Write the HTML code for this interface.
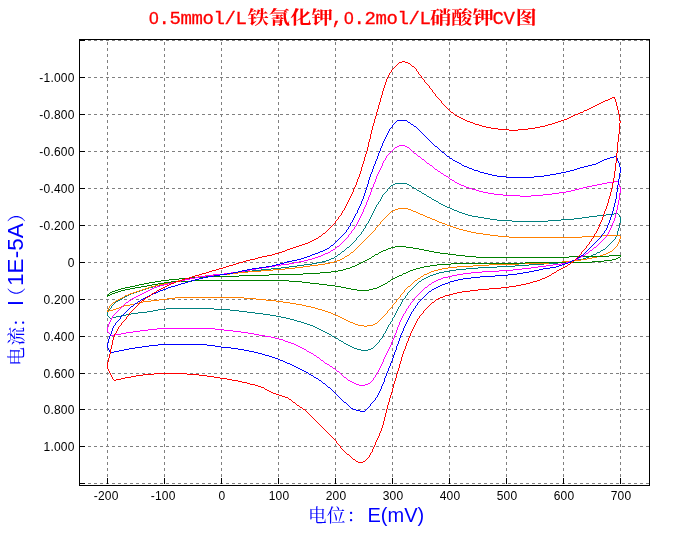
<!DOCTYPE html>
<html lang="zh"><head><meta charset="utf-8"><title>CV</title>
<style>
html,body{margin:0;padding:0;background:#fff;}
body{width:681px;height:550px;overflow:hidden;font-family:"Liberation Sans","Noto Sans CJK SC",sans-serif;}
svg{display:block;will-change:transform;}
.tk text{font-family:"Liberation Sans",sans-serif;font-size:12px;fill:#000;letter-spacing:0.2px;}
.title{fill:#ff0000;font-weight:bold;}
.title .l{font-family:"Liberation Mono","Noto Serif CJK SC",monospace;font-size:19px;font-weight:normal;stroke:#ff0000;stroke-width:0.3px;}
.title .l .z{font-family:"Liberation Sans",sans-serif;font-size:17.4px;}
.title .c{font-family:"Liberation Serif","Noto Serif CJK SC",serif;font-size:21.33px;}
.ax{fill:#0000ff;}
.ax .c{font-family:"Liberation Serif","Noto Serif CJK SC",serif;}
.ax .l{font-family:"Liberation Sans",sans-serif;}
</style></head><body>
<svg width="681" height="550" viewBox="0 0 681 550">
<rect width="681" height="550" fill="#fff"/>
<g stroke="#808080" stroke-width="1" stroke-dasharray="3 3" stroke-dashoffset="0" shape-rendering="crispEdges" fill="none">
<line x1="82" x2="649" y1="40.5" y2="40.5"/>
<line x1="82" x2="649" y1="77.5" y2="77.5"/>
<line x1="82" x2="649" y1="114.5" y2="114.5"/>
<line x1="82" x2="649" y1="151.5" y2="151.5"/>
<line x1="82" x2="649" y1="188.5" y2="188.5"/>
<line x1="82" x2="649" y1="225.5" y2="225.5"/>
<line x1="82" x2="649" y1="262.5" y2="262.5"/>
<line x1="82" x2="649" y1="299.5" y2="299.5"/>
<line x1="82" x2="649" y1="336.5" y2="336.5"/>
<line x1="82" x2="649" y1="373.5" y2="373.5"/>
<line x1="82" x2="649" y1="409.5" y2="409.5"/>
<line x1="82" x2="649" y1="446.5" y2="446.5"/>
<line x1="82" x2="649" y1="483.5" y2="483.5"/>
<line x1="107.5" x2="107.5" y1="42" y2="484"/>
<line x1="164.5" x2="164.5" y1="42" y2="484"/>
<line x1="221.5" x2="221.5" y1="42" y2="484"/>
<line x1="278.5" x2="278.5" y1="42" y2="484"/>
<line x1="335.5" x2="335.5" y1="42" y2="484"/>
<line x1="392.5" x2="392.5" y1="42" y2="484"/>
<line x1="449.5" x2="449.5" y1="42" y2="484"/>
<line x1="506.5" x2="506.5" y1="42" y2="484"/>
<line x1="563.5" x2="563.5" y1="42" y2="484"/>
<line x1="620.5" x2="620.5" y1="42" y2="484"/>
</g>
<g fill="#000" shape-rendering="crispEdges">
<rect x="79" y="39" width="571" height="1"/>
<rect x="79" y="485" width="571" height="1"/>
<rect x="79" y="39" width="1" height="447"/>
<rect x="649" y="39" width="1" height="447"/>
<rect x="80" y="40" width="5" height="1"/>
<rect x="80" y="77" width="5" height="1"/>
<rect x="80" y="114" width="5" height="1"/>
<rect x="80" y="151" width="5" height="1"/>
<rect x="80" y="188" width="5" height="1"/>
<rect x="80" y="225" width="5" height="1"/>
<rect x="80" y="262" width="5" height="1"/>
<rect x="80" y="299" width="5" height="1"/>
<rect x="80" y="336" width="5" height="1"/>
<rect x="80" y="373" width="5" height="1"/>
<rect x="80" y="409" width="5" height="1"/>
<rect x="80" y="446" width="5" height="1"/>
<rect x="80" y="483" width="5" height="1"/>
<rect x="107" y="478" width="1" height="6"/>
<rect x="164" y="478" width="1" height="6"/>
<rect x="221" y="478" width="1" height="6"/>
<rect x="278" y="478" width="1" height="6"/>
<rect x="335" y="478" width="1" height="6"/>
<rect x="392" y="478" width="1" height="6"/>
<rect x="449" y="478" width="1" height="6"/>
<rect x="506" y="478" width="1" height="6"/>
<rect x="563" y="478" width="1" height="6"/>
<rect x="620" y="478" width="1" height="6"/>
</g>
<g fill="none" stroke-width="1" shape-rendering="crispEdges" stroke-linecap="butt">
<path d="M395 183.5h12M393 184.5h2M407 184.5h2M391 185.5h2M409 185.5h2M412 187.5h2M414 188.5h2M417 190.5h2M419 191.5h2M422 193.5h2M424 194.5h2M427 196.5h2M429 197.5h2M432 199.5h2M434 200.5h2M436 201.5h2M439 203.5h2M441 204.5h2M443 205.5h2M445 206.5h2M447 207.5h3M450 208.5h2M452 209.5h2M454 210.5h3M457 211.5h2M459 212.5h3M462 213.5h3M614 213.5h4M465 214.5h3M606 214.5h8M468 215.5h4M597 215.5h9M472 216.5h6M589 216.5h8M478 217.5h6M582 217.5h7M484 218.5h6M574 218.5h8M490 219.5h7M561 219.5h13M497 220.5h15M548 220.5h13M512 221.5h36M347 247.5h2M603 249.5h2M601 250.5h2M342 251.5h2M597 252.5h3M338 254.5h2M593 254.5h3M591 255.5h2M335 256.5h2M589 256.5h2M586 257.5h3M331 258.5h3M583 258.5h3M329 259.5h2M578 259.5h5M326 260.5h3M573 260.5h5M322 261.5h4M567 261.5h6M317 262.5h5M558 262.5h9M312 263.5h5M544 263.5h14M304 264.5h8M529 264.5h15M297 265.5h7M515 265.5h14M289 266.5h8M497 266.5h18M281 267.5h8M478 267.5h19M271 268.5h10M466 268.5h12M261 269.5h10M456 269.5h10M252 270.5h9M450 270.5h6M245 271.5h7M444 271.5h6M236 272.5h9M439 272.5h5M229 273.5h7M436 273.5h3M219 274.5h10M433 274.5h3M207 275.5h12M430 275.5h3M200 276.5h7M428 276.5h2M194 277.5h6M426 277.5h2M189 278.5h5M424 278.5h2M184 279.5h5M422 279.5h2M180 280.5h4M174 281.5h6M419 281.5h2M170 282.5h4M165 283.5h5M160 284.5h5M156 285.5h4M153 286.5h3M149 287.5h4M146 288.5h3M143 289.5h3M140 290.5h3M137 291.5h3M134 292.5h3M131 293.5h3M129 294.5h2M127 295.5h2M125 296.5h2M123 297.5h2M120 299.5h2M118 300.5h2M116 301.5h2M166 308.5h48M158 309.5h8M214 309.5h16M153 310.5h5M230 310.5h9M147 311.5h6M239 311.5h8M138 312.5h9M247 312.5h8M131 313.5h7M255 313.5h8M126 314.5h5M263 314.5h7M121 315.5h5M270 315.5h6M116 316.5h5M276 316.5h5M112 317.5h4M281 317.5h5M110 318.5h2M286 318.5h4M290 319.5h4M294 320.5h3M297 321.5h4M301 322.5h3M304 323.5h3M307 324.5h3M310 325.5h3M313 326.5h2M315 327.5h2M317 328.5h2M319 329.5h2M321 330.5h2M323 331.5h2M325 332.5h2M327 333.5h2M329 334.5h2M332 336.5h2M334 337.5h2M336 338.5h2M339 340.5h2M341 341.5h2M344 343.5h2M346 344.5h2M348 345.5h2M350 346.5h2M352 347.5h2M354 348.5h3M371 348.5h2M357 349.5h4M368 349.5h3M361 350.5h7M107.5 312v4M108.5 310v2M108.5 316v1M109.5 309v1M109.5 317v1M110.5 308v1M111.5 306v2M112.5 305v1M113.5 304v1M114.5 303v1M115.5 302v1M122.5 298v1M331.5 335v1M334.5 257v1M337.5 255v1M338.5 339v1M340.5 253v1M341.5 252v1M343.5 342v1M344.5 250v1M345.5 249v1M346.5 248v1M349.5 246v1M350.5 245v1M351.5 244v1M352.5 243v1M353.5 242v1M354.5 241v1M355.5 240v1M356.5 238v2M357.5 237v1M358.5 236v1M359.5 235v1M360.5 234v1M361.5 232v2M362.5 231v1M363.5 229v2M364.5 228v1M365.5 226v2M366.5 224v2M367.5 223v1M368.5 221v2M369.5 219v2M370.5 217v2M371.5 215v2M372.5 213v2M373.5 211v2M373.5 347v1M374.5 209v2M374.5 346v1M375.5 207v2M375.5 345v1M376.5 205v2M376.5 344v1M377.5 204v1M377.5 343v1M378.5 202v2M378.5 342v1M379.5 201v1M379.5 340v2M380.5 199v2M380.5 339v1M381.5 197v2M381.5 338v1M382.5 195v2M382.5 336v2M383.5 194v1M383.5 334v2M384.5 193v1M384.5 333v1M385.5 192v1M385.5 331v2M386.5 191v1M386.5 329v2M387.5 189v2M387.5 327v2M388.5 188v1M388.5 325v2M389.5 187v1M389.5 324v1M390.5 186v1M390.5 322v2M391.5 321v1M392.5 318v3M393.5 317v1M394.5 315v2M395.5 313v2M396.5 311v2M397.5 309v2M398.5 307v2M399.5 306v1M400.5 304v2M401.5 302v2M402.5 300v2M403.5 299v1M404.5 298v1M405.5 296v2M406.5 295v1M407.5 293v2M408.5 292v1M409.5 291v1M410.5 290v1M411.5 186v1M411.5 289v1M412.5 288v1M413.5 287v1M414.5 286v1M415.5 285v1M416.5 189v1M416.5 284v1M417.5 283v1M418.5 282v1M421.5 192v1M421.5 280v1M426.5 195v1M431.5 198v1M438.5 202v1M596.5 253v1M600.5 251v1M605.5 248v1M606.5 247v1M607.5 246v1M608.5 245v1M609.5 244v1M610.5 243v1M611.5 242v1M612.5 241v1M613.5 240v1M614.5 239v1M615.5 237v2M616.5 235v2M617.5 231v4M618.5 214v1M618.5 228v3M619.5 215v2M619.5 223v5M620.5 217v6" stroke="#008080"/>
<path d="M398 208.5h10M395 209.5h3M408 209.5h3M393 210.5h2M411 210.5h2M391 211.5h2M413 211.5h3M416 212.5h2M418 213.5h2M420 214.5h3M423 215.5h2M425 216.5h2M427 217.5h3M430 218.5h2M432 219.5h3M435 220.5h2M437 221.5h2M439 222.5h3M442 223.5h3M445 224.5h2M447 225.5h3M450 226.5h3M453 227.5h3M456 228.5h3M459 229.5h4M463 230.5h4M467 231.5h4M471 232.5h5M476 233.5h7M483 234.5h7M490 235.5h8M601 235.5h19M498 236.5h11M582 236.5h19M509 237.5h73M610 251.5h2M351 252.5h2M608 252.5h2M606 253.5h2M603 254.5h3M347 255.5h2M600 255.5h3M345 256.5h2M597 256.5h3M592 257.5h5M342 258.5h2M587 258.5h5M340 259.5h2M581 259.5h6M337 260.5h3M573 260.5h8M334 261.5h3M562 261.5h11M330 262.5h4M549 262.5h13M325 263.5h5M519 263.5h30M318 264.5h7M489 264.5h30M310 265.5h8M473 265.5h16M303 266.5h7M457 266.5h16M295 267.5h8M448 267.5h9M285 268.5h10M442 268.5h6M273 269.5h12M438 269.5h4M261 270.5h12M434 270.5h4M248 271.5h13M431 271.5h3M238 272.5h10M429 272.5h2M230 273.5h8M427 273.5h2M217 274.5h13M424 274.5h3M205 275.5h12M198 276.5h7M421 276.5h2M193 277.5h5M187 278.5h6M418 278.5h2M183 279.5h4M178 280.5h5M415 280.5h2M173 281.5h5M169 282.5h4M164 283.5h5M159 284.5h5M155 285.5h4M151 286.5h4M408 286.5h2M148 287.5h3M145 288.5h3M142 289.5h3M139 290.5h3M136 291.5h3M133 292.5h3M130 293.5h3M128 294.5h2M125 295.5h3M122 297.5h2M175 297.5h69M120 298.5h2M167 298.5h8M244 298.5h12M118 299.5h2M159 299.5h8M256 299.5h10M116 300.5h2M151 300.5h8M266 300.5h10M143 301.5h8M276 301.5h7M113 302.5h2M139 302.5h4M283 302.5h7M135 303.5h4M290 303.5h6M130 304.5h5M296 304.5h6M124 305.5h6M302 305.5h4M121 306.5h3M306 306.5h5M119 307.5h2M311 307.5h4M116 308.5h3M315 308.5h3M113 309.5h3M318 309.5h4M109 310.5h4M322 310.5h3M107 311.5h2M325 311.5h3M328 312.5h3M331 313.5h2M333 314.5h2M335 315.5h3M338 316.5h2M340 317.5h2M342 318.5h2M344 319.5h2M346 320.5h2M348 321.5h2M350 322.5h3M353 323.5h2M375 323.5h2M355 324.5h3M373 324.5h2M358 325.5h6M367 325.5h6M364 326.5h3M107.5 310v1M108.5 308v2M109.5 306v2M110.5 305v1M111.5 304v1M112.5 303v1M115.5 301v1M124.5 296v1M344.5 257v1M349.5 254v1M350.5 253v1M353.5 251v1M354.5 250v1M355.5 249v1M356.5 248v1M357.5 247v1M358.5 246v1M359.5 245v1M360.5 244v1M361.5 243v1M362.5 242v1M363.5 241v1M364.5 240v1M365.5 239v1M366.5 238v1M367.5 237v1M368.5 236v1M369.5 235v1M370.5 234v1M371.5 233v1M372.5 232v1M373.5 231v1M374.5 230v1M375.5 228v2M376.5 227v1M377.5 226v1M377.5 322v1M378.5 225v1M378.5 321v1M379.5 224v1M379.5 320v1M380.5 222v2M380.5 319v1M381.5 221v1M381.5 318v1M382.5 220v1M382.5 317v1M383.5 219v1M383.5 316v1M384.5 218v1M384.5 315v1M385.5 217v1M385.5 314v1M386.5 216v1M386.5 313v1M387.5 215v1M387.5 311v2M388.5 214v1M388.5 310v1M389.5 213v1M389.5 309v1M390.5 212v1M390.5 308v1M391.5 307v1M392.5 305v2M393.5 304v1M394.5 303v1M395.5 302v1M396.5 300v2M397.5 299v1M398.5 298v1M399.5 297v1M400.5 295v2M401.5 294v1M402.5 293v1M403.5 292v1M404.5 290v2M405.5 289v1M406.5 288v1M407.5 287v1M410.5 285v1M411.5 284v1M412.5 283v1M413.5 282v1M414.5 281v1M417.5 279v1M420.5 277v1M423.5 275v1M612.5 250v1M613.5 249v1M614.5 248v1M615.5 247v1M616.5 246v1M617.5 244v2M618.5 242v2M619.5 239v3M620.5 236v3" stroke="#ff8000"/>
<path d="M395 246.5h11M391 247.5h4M406 247.5h7M388 248.5h3M413 248.5h6M386 249.5h2M419 249.5h5M383 250.5h3M424 250.5h5M381 251.5h2M429 251.5h5M379 252.5h2M434 252.5h6M440 253.5h8M375 254.5h3M448 254.5h8M456 255.5h9M609 255.5h12M372 256.5h2M465 256.5h11M569 256.5h40M476 257.5h93M618 257.5h2M369 258.5h2M616 258.5h2M367 259.5h2M612 259.5h4M365 260.5h2M604 260.5h8M363 261.5h2M592 261.5h12M361 262.5h2M525 262.5h67M359 263.5h2M451 263.5h74M357 264.5h2M437 264.5h14M355 265.5h2M430 265.5h7M352 266.5h3M424 266.5h6M350 267.5h2M420 267.5h4M346 268.5h4M416 268.5h4M343 269.5h3M413 269.5h3M338 270.5h5M410 270.5h3M331 271.5h7M408 271.5h2M320 272.5h11M406 272.5h2M303 273.5h17M403 273.5h3M269 274.5h34M239 275.5h30M399 275.5h3M203 276.5h36M397 276.5h2M192 277.5h11M395 277.5h2M179 278.5h13M393 278.5h2M169 279.5h10M391 279.5h2M161 280.5h8M192 280.5h97M155 281.5h6M171 281.5h21M289 281.5h13M388 281.5h2M149 282.5h6M164 282.5h7M302 282.5h8M144 283.5h5M158 283.5h6M310 283.5h9M385 283.5h2M139 284.5h5M152 284.5h6M319 284.5h8M383 284.5h2M135 285.5h4M147 285.5h5M327 285.5h8M381 285.5h2M130 286.5h5M141 286.5h6M335 286.5h6M379 286.5h2M125 287.5h5M135 287.5h6M341 287.5h5M377 287.5h2M121 288.5h4M130 288.5h5M346 288.5h5M373 288.5h4M118 289.5h3M125 289.5h5M351 289.5h6M369 289.5h4M115 290.5h3M121 290.5h4M357 290.5h12M112 291.5h3M118 291.5h3M110 292.5h2M115 292.5h3M112 293.5h3M110 294.5h2M107 295.5h3M107.5 296v1M108.5 294v1M109.5 293v1M371.5 257v1M374.5 255v1M378.5 253v1M387.5 282v1M390.5 280v1M402.5 274v1M620.5 256v1" stroke="#008000"/>
<path d="M399 145.5h6M397 146.5h2M405 146.5h2M395 147.5h2M407 147.5h2M414 153.5h2M418 156.5h2M422 159.5h2M427 163.5h2M430 165.5h2M435 169.5h2M438 171.5h2M441 173.5h2M444 175.5h2M446 176.5h2M450 179.5h2M452 180.5h2M613 181.5h5M455 182.5h2M607 182.5h6M457 183.5h2M602 183.5h5M459 184.5h2M597 184.5h5M461 185.5h3M592 185.5h5M464 186.5h2M587 186.5h5M466 187.5h3M583 187.5h4M469 188.5h3M579 188.5h4M472 189.5h4M575 189.5h4M476 190.5h3M571 190.5h4M479 191.5h4M566 191.5h5M483 192.5h5M559 192.5h7M488 193.5h6M552 193.5h7M494 194.5h9M543 194.5h9M503 195.5h17M531 195.5h12M520 196.5h11M337 246.5h2M594 247.5h2M333 249.5h2M331 250.5h2M590 250.5h2M328 252.5h2M325 253.5h3M586 253.5h2M323 254.5h2M321 255.5h2M583 255.5h2M318 256.5h3M581 256.5h2M315 257.5h3M579 257.5h2M312 258.5h3M308 259.5h4M575 259.5h3M304 260.5h4M572 260.5h3M299 261.5h5M569 261.5h3M294 262.5h5M566 262.5h3M289 263.5h5M561 263.5h5M281 264.5h8M553 264.5h8M275 265.5h6M546 265.5h7M269 266.5h6M538 266.5h8M262 267.5h7M531 267.5h7M256 268.5h6M522 268.5h9M250 269.5h6M513 269.5h9M245 270.5h5M499 270.5h14M238 271.5h7M482 271.5h17M231 272.5h7M471 272.5h11M224 273.5h7M463 273.5h8M213 274.5h11M457 274.5h6M206 275.5h7M452 275.5h5M200 276.5h6M448 276.5h4M195 277.5h5M443 277.5h5M190 278.5h5M441 278.5h2M185 279.5h5M438 279.5h3M181 280.5h4M436 280.5h2M176 281.5h5M434 281.5h2M172 282.5h4M432 282.5h2M168 283.5h4M164 284.5h4M429 284.5h2M160 285.5h4M157 286.5h3M154 287.5h3M425 287.5h2M152 288.5h2M150 289.5h2M148 290.5h2M146 291.5h2M144 292.5h2M142 293.5h2M140 294.5h2M138 295.5h2M136 296.5h2M134 297.5h2M132 298.5h2M129 300.5h2M126 302.5h2M157 328.5h58M148 329.5h9M215 329.5h9M140 330.5h8M224 330.5h9M133 331.5h7M233 331.5h8M126 332.5h7M241 332.5h7M121 333.5h5M248 333.5h6M115 334.5h6M254 334.5h5M111 335.5h4M259 335.5h6M265 336.5h6M271 337.5h4M275 338.5h4M279 339.5h4M283 340.5h2M285 341.5h3M288 342.5h3M291 343.5h3M294 344.5h2M296 345.5h2M298 346.5h2M300 347.5h2M302 348.5h2M304 349.5h2M307 351.5h2M309 352.5h2M311 353.5h2M314 355.5h2M317 357.5h2M321 360.5h2M325 363.5h2M327 364.5h2M330 366.5h2M333 368.5h2M337 371.5h2M344 377.5h2M348 380.5h2M350 381.5h2M352 382.5h2M354 383.5h2M368 383.5h2M356 384.5h3M365 384.5h3M359 385.5h6M107.5 327v5M108.5 324v3M108.5 332v1M109.5 322v2M109.5 333v1M110.5 320v2M110.5 334v1M111.5 318v2M112.5 316v2M113.5 315v1M114.5 314v1M115.5 313v1M116.5 312v1M117.5 311v1M118.5 310v1M119.5 309v1M120.5 308v1M121.5 307v1M122.5 306v1M123.5 305v1M124.5 304v1M125.5 303v1M128.5 301v1M131.5 299v1M306.5 350v1M313.5 354v1M316.5 356v1M319.5 358v1M320.5 359v1M323.5 361v1M324.5 362v1M329.5 365v1M330.5 251v1M332.5 367v1M335.5 248v1M335.5 369v1M336.5 247v1M336.5 370v1M339.5 245v1M339.5 372v1M340.5 244v1M340.5 373v1M341.5 243v1M341.5 374v1M342.5 242v1M342.5 375v1M343.5 241v1M343.5 376v1M344.5 240v1M345.5 239v1M346.5 238v1M346.5 378v1M347.5 237v1M347.5 379v1M348.5 235v2M349.5 234v1M350.5 233v1M351.5 231v2M352.5 230v1M353.5 229v1M354.5 227v2M355.5 226v1M356.5 224v2M357.5 222v2M358.5 220v2M359.5 218v2M360.5 216v2M361.5 214v2M362.5 212v2M363.5 209v3M364.5 207v2M365.5 205v2M366.5 202v3M367.5 200v2M368.5 197v3M369.5 195v2M370.5 192v3M370.5 382v1M371.5 189v3M371.5 381v1M372.5 187v2M372.5 380v1M373.5 184v3M373.5 378v2M374.5 182v2M374.5 377v1M375.5 179v3M375.5 375v2M376.5 176v3M376.5 374v1M377.5 174v2M377.5 372v2M378.5 172v2M378.5 370v2M379.5 170v2M379.5 368v2M380.5 168v2M380.5 366v2M381.5 166v2M381.5 364v2M382.5 163v3M382.5 362v2M383.5 161v2M383.5 359v3M384.5 160v1M384.5 357v2M385.5 158v2M385.5 355v2M386.5 156v2M386.5 353v2M387.5 155v1M387.5 351v2M388.5 154v1M388.5 349v2M389.5 153v1M389.5 347v2M390.5 152v1M390.5 345v2M391.5 151v1M391.5 342v3M392.5 150v1M392.5 340v2M393.5 149v1M393.5 338v2M394.5 148v1M394.5 335v3M395.5 333v2M396.5 330v3M397.5 327v3M398.5 325v2M399.5 322v3M400.5 320v2M401.5 318v2M402.5 316v2M403.5 314v2M404.5 313v1M405.5 311v2M406.5 309v2M407.5 308v1M408.5 306v2M409.5 148v1M409.5 305v1M410.5 149v1M410.5 303v2M411.5 150v1M411.5 302v1M412.5 151v1M412.5 301v1M413.5 152v1M413.5 299v2M414.5 298v1M415.5 297v1M416.5 154v1M416.5 296v1M417.5 155v1M417.5 295v1M418.5 294v1M419.5 293v1M420.5 157v1M420.5 292v1M421.5 158v1M421.5 291v1M422.5 290v1M423.5 289v1M424.5 160v1M424.5 288v1M425.5 161v1M426.5 162v1M427.5 286v1M428.5 285v1M429.5 164v1M431.5 283v1M432.5 166v1M433.5 167v1M434.5 168v1M437.5 170v1M440.5 172v1M443.5 174v1M448.5 177v1M449.5 178v1M454.5 181v1M578.5 258v1M585.5 254v1M588.5 252v1M589.5 251v1M592.5 249v1M593.5 248v1M596.5 246v1M597.5 245v1M598.5 244v1M599.5 243v1M600.5 242v1M601.5 241v1M602.5 240v1M603.5 239v1M604.5 238v1M605.5 237v1M606.5 235v2M607.5 234v1M608.5 232v2M609.5 230v2M610.5 228v2M611.5 226v2M612.5 223v3M613.5 221v2M614.5 218v3M615.5 214v4M616.5 210v4M617.5 205v5M618.5 182v2M618.5 200v5M619.5 184v3M619.5 193v7M620.5 187v6" stroke="#ff00ff"/>
<path d="M397 120.5h10M408 122.5h2M411 124.5h2M414 126.5h2M435 146.5h2M442 152.5h2M447 156.5h2M614 156.5h3M610 157.5h4M450 158.5h2M607 158.5h3M604 159.5h3M453 160.5h2M602 160.5h2M455 161.5h2M600 161.5h2M457 162.5h2M598 162.5h2M459 163.5h2M596 163.5h2M592 164.5h4M462 165.5h2M588 165.5h4M464 166.5h3M584 166.5h4M467 167.5h2M580 167.5h4M469 168.5h3M577 168.5h3M472 169.5h2M574 169.5h3M474 170.5h4M570 170.5h4M478 171.5h2M566 171.5h4M480 172.5h4M561 172.5h5M484 173.5h4M556 173.5h5M488 174.5h4M550 174.5h6M492 175.5h5M544 175.5h6M497 176.5h9M534 176.5h10M506 177.5h28M331 245.5h2M327 248.5h2M325 249.5h2M323 250.5h2M320 251.5h3M318 252.5h2M315 253.5h3M312 254.5h3M310 255.5h2M581 255.5h2M307 256.5h3M304 257.5h3M578 257.5h2M301 258.5h3M576 258.5h2M297 259.5h4M292 260.5h5M572 260.5h3M287 261.5h5M570 261.5h2M284 262.5h3M568 262.5h2M280 263.5h4M565 263.5h3M276 264.5h4M562 264.5h3M272 265.5h4M559 265.5h3M266 266.5h6M556 266.5h3M259 267.5h7M550 267.5h6M252 268.5h7M543 268.5h7M247 269.5h5M539 269.5h4M242 270.5h5M534 270.5h5M238 271.5h4M529 271.5h5M233 272.5h5M523 272.5h6M227 273.5h6M517 273.5h6M220 274.5h7M508 274.5h9M214 275.5h6M495 275.5h13M208 276.5h6M480 276.5h15M203 277.5h5M471 277.5h9M199 278.5h4M463 278.5h8M195 279.5h4M458 279.5h5M191 280.5h4M454 280.5h4M188 281.5h3M450 281.5h4M185 282.5h3M448 282.5h2M181 283.5h4M445 283.5h3M178 284.5h3M442 284.5h3M175 285.5h3M440 285.5h2M171 286.5h4M438 286.5h2M168 287.5h3M436 287.5h2M166 288.5h2M434 288.5h2M163 289.5h3M432 289.5h2M160 290.5h3M158 291.5h2M429 291.5h2M156 292.5h2M153 293.5h3M151 294.5h2M149 295.5h2M147 296.5h2M145 297.5h2M143 298.5h2M141 299.5h2M138 301.5h2M135 303.5h2M131 306.5h2M158 344.5h49M149 345.5h9M207 345.5h8M142 346.5h7M215 346.5h6M135 347.5h7M221 347.5h10M129 348.5h6M231 348.5h7M124 349.5h5M238 349.5h6M119 350.5h5M244 350.5h5M114 351.5h5M249 351.5h5M110 352.5h4M254 352.5h4M258 353.5h4M262 354.5h3M265 355.5h4M269 356.5h3M272 357.5h3M275 358.5h3M278 359.5h2M280 360.5h3M283 361.5h2M285 362.5h2M287 363.5h3M290 364.5h2M292 365.5h2M294 366.5h2M296 367.5h2M298 368.5h2M300 369.5h2M302 370.5h2M304 371.5h2M306 372.5h2M309 374.5h2M311 375.5h2M314 377.5h2M316 378.5h2M319 380.5h2M323 383.5h2M328 387.5h2M344 402.5h2M351 408.5h2M353 409.5h3M356 410.5h4M360 411.5h5M107.5 343v5M108.5 339v4M108.5 348v2M109.5 336v3M109.5 350v2M110.5 334v2M111.5 331v3M112.5 328v3M113.5 326v2M114.5 325v1M115.5 323v2M116.5 322v1M117.5 321v1M118.5 320v1M119.5 319v1M120.5 317v2M121.5 316v1M122.5 315v1M123.5 314v1M124.5 313v1M125.5 312v1M126.5 311v1M127.5 310v1M128.5 309v1M129.5 308v1M130.5 307v1M133.5 305v1M134.5 304v1M137.5 302v1M140.5 300v1M308.5 373v1M313.5 376v1M318.5 379v1M321.5 381v1M322.5 382v1M325.5 384v1M326.5 385v1M327.5 386v1M329.5 247v1M330.5 246v1M330.5 388v1M331.5 389v1M332.5 390v1M333.5 244v1M333.5 391v1M334.5 243v1M334.5 392v1M335.5 242v1M335.5 393v1M336.5 241v1M336.5 394v1M337.5 240v1M337.5 395v1M338.5 239v1M338.5 396v1M339.5 238v1M339.5 397v1M340.5 237v1M340.5 398v1M341.5 236v1M341.5 399v1M342.5 235v1M342.5 400v1M343.5 234v1M343.5 401v1M344.5 233v1M345.5 232v1M346.5 230v2M346.5 403v1M347.5 229v1M347.5 404v1M348.5 227v2M348.5 405v1M349.5 226v1M349.5 406v1M350.5 223v3M350.5 407v1M351.5 222v1M352.5 220v2M353.5 218v2M354.5 216v2M355.5 214v2M356.5 213v1M357.5 210v3M358.5 208v2M359.5 206v2M360.5 204v2M361.5 201v3M362.5 199v2M363.5 196v3M364.5 193v3M365.5 190v3M365.5 410v1M366.5 187v3M366.5 409v1M367.5 184v3M367.5 408v1M368.5 180v4M368.5 407v1M369.5 177v3M369.5 406v1M370.5 174v3M370.5 404v2M371.5 172v2M371.5 403v1M372.5 169v3M372.5 402v1M373.5 166v3M373.5 401v1M374.5 164v2M374.5 400v1M375.5 161v3M375.5 398v2M376.5 159v2M376.5 397v1M377.5 156v3M377.5 395v2M378.5 153v3M378.5 393v2M379.5 151v2M379.5 391v2M380.5 148v3M380.5 389v2M381.5 146v2M381.5 386v3M382.5 143v3M382.5 384v2M383.5 141v2M383.5 382v2M384.5 139v2M384.5 378v4M385.5 137v2M385.5 376v2M386.5 135v2M386.5 373v3M387.5 133v2M387.5 371v2M388.5 131v2M388.5 368v3M389.5 129v2M389.5 366v2M390.5 128v1M390.5 363v3M391.5 127v1M391.5 361v2M392.5 125v2M392.5 358v3M393.5 124v1M393.5 355v3M394.5 123v1M394.5 352v3M395.5 122v1M395.5 350v2M396.5 121v1M396.5 346v4M397.5 344v2M398.5 341v3M399.5 338v3M400.5 335v3M401.5 333v2M402.5 331v2M403.5 328v3M404.5 326v2M405.5 324v2M406.5 322v2M407.5 121v1M407.5 320v2M408.5 318v2M409.5 316v2M410.5 123v1M410.5 314v2M411.5 312v2M412.5 311v1M413.5 125v1M413.5 309v2M414.5 308v1M415.5 306v2M416.5 127v1M416.5 305v1M417.5 128v1M417.5 303v2M418.5 129v1M418.5 302v1M419.5 130v1M419.5 301v1M420.5 131v1M420.5 300v1M421.5 132v1M421.5 299v1M422.5 133v1M422.5 298v1M423.5 134v1M423.5 297v1M424.5 135v1M424.5 296v1M425.5 136v1M425.5 295v1M426.5 137v1M426.5 294v1M427.5 138v1M427.5 293v1M428.5 139v1M428.5 292v1M429.5 140v1M430.5 141v1M431.5 142v1M431.5 290v1M432.5 143v1M433.5 144v1M434.5 145v1M437.5 147v1M438.5 148v1M439.5 149v1M440.5 150v1M441.5 151v1M444.5 153v1M445.5 154v1M446.5 155v1M449.5 157v1M452.5 159v1M461.5 164v1M575.5 259v1M580.5 256v1M583.5 254v1M584.5 253v1M585.5 252v1M586.5 251v1M587.5 250v1M588.5 249v1M589.5 248v1M590.5 247v1M591.5 246v1M592.5 245v1M593.5 244v1M594.5 243v1M595.5 242v1M596.5 241v1M597.5 240v1M598.5 239v1M599.5 238v1M600.5 237v1M601.5 235v2M602.5 234v1M603.5 233v1M604.5 231v2M605.5 230v1M606.5 228v2M607.5 225v3M608.5 223v2M609.5 220v3M610.5 217v3M611.5 214v3M612.5 211v3M613.5 207v4M614.5 203v4M615.5 199v4M616.5 157v1M616.5 192v7M617.5 158v3M617.5 185v7M618.5 161v2M618.5 179v6M619.5 163v4M619.5 173v6M620.5 167v6" stroke="#0000ff"/>
<path d="M402 61.5h3M399 62.5h3M405 62.5h3M408 63.5h2M412 66.5h2M612 97.5h3M610 98.5h2M608 99.5h2M605 100.5h3M603 101.5h2M601 102.5h2M599 103.5h2M597 104.5h2M595 105.5h2M593 106.5h2M591 107.5h2M589 108.5h2M587 109.5h2M584 110.5h3M451 112.5h2M580 112.5h3M578 113.5h2M575 114.5h3M455 115.5h2M573 115.5h2M457 116.5h2M571 116.5h2M459 117.5h2M569 117.5h2M461 118.5h2M567 118.5h2M463 119.5h2M564 119.5h3M465 120.5h2M561 120.5h3M467 121.5h3M558 121.5h3M470 122.5h3M555 122.5h3M473 123.5h2M552 123.5h3M475 124.5h4M548 124.5h4M479 125.5h3M545 125.5h3M482 126.5h4M540 126.5h5M486 127.5h5M535 127.5h5M491 128.5h7M528 128.5h7M498 129.5h11M518 129.5h10M509 130.5h9M323 233.5h2M319 236.5h2M316 238.5h2M314 239.5h2M312 240.5h2M310 241.5h2M308 242.5h2M305 243.5h3M302 244.5h3M299 245.5h3M296 246.5h3M293 247.5h3M290 248.5h3M287 249.5h3M285 250.5h2M282 251.5h3M279 252.5h3M275 253.5h4M272 254.5h3M267 255.5h5M262 256.5h5M258 257.5h4M255 258.5h3M250 259.5h5M246 260.5h4M243 261.5h3M239 262.5h4M571 262.5h2M236 263.5h3M233 264.5h3M568 264.5h2M229 265.5h4M226 266.5h3M565 266.5h2M223 267.5h3M563 267.5h2M219 268.5h4M561 268.5h2M216 269.5h3M559 269.5h2M212 270.5h4M557 270.5h2M209 271.5h3M206 272.5h3M554 272.5h2M202 273.5h4M552 273.5h2M199 274.5h3M195 275.5h4M549 275.5h2M192 276.5h3M547 276.5h2M189 277.5h3M545 277.5h2M185 278.5h4M542 278.5h3M182 279.5h3M540 279.5h2M180 280.5h2M537 280.5h3M176 281.5h4M533 281.5h4M174 282.5h2M530 282.5h3M171 283.5h3M526 283.5h4M169 284.5h2M521 284.5h5M167 285.5h2M516 285.5h5M165 286.5h2M509 286.5h7M163 287.5h2M501 287.5h8M161 288.5h2M489 288.5h12M159 289.5h2M478 289.5h11M157 290.5h2M470 290.5h8M462 291.5h8M154 292.5h2M457 292.5h5M152 293.5h2M453 293.5h4M449 294.5h4M445 295.5h4M148 296.5h2M443 296.5h2M146 297.5h2M440 297.5h3M438 298.5h2M436 299.5h2M142 300.5h2M432 302.5h2M154 373.5h33M143 374.5h11M187 374.5h12M136 375.5h7M199 375.5h8M131 376.5h5M207 376.5h7M125 377.5h6M214 377.5h6M121 378.5h4M220 378.5h7M116 379.5h5M227 379.5h5M114 380.5h2M232 380.5h6M238 381.5h4M242 382.5h5M247 383.5h3M250 384.5h5M255 385.5h3M258 386.5h3M261 387.5h3M265 389.5h2M267 390.5h2M269 391.5h2M271 392.5h2M273 393.5h3M276 394.5h3M279 395.5h3M282 396.5h3M285 397.5h3M289 399.5h2M293 402.5h2M297 405.5h2M300 407.5h2M303 409.5h2M347 454.5h2M353 459.5h2M356 461.5h2M363 461.5h2M358 462.5h5M107.5 362v7M108.5 358v4M108.5 369v2M109.5 354v4M109.5 371v2M110.5 349v5M110.5 373v2M111.5 345v4M111.5 375v2M112.5 340v5M112.5 377v2M113.5 337v3M113.5 379v1M114.5 334v3M115.5 333v1M116.5 331v2M117.5 329v2M118.5 327v2M119.5 326v1M120.5 325v1M121.5 323v2M122.5 322v1M123.5 321v1M124.5 320v1M125.5 319v1M126.5 317v2M127.5 316v1M128.5 315v1M129.5 313v2M130.5 312v1M131.5 311v1M132.5 310v1M133.5 309v1M134.5 308v1M135.5 307v1M136.5 306v1M137.5 305v1M138.5 304v1M139.5 303v1M140.5 302v1M141.5 301v1M144.5 299v1M145.5 298v1M150.5 295v1M151.5 294v1M156.5 291v1M264.5 388v1M288.5 398v1M291.5 400v1M292.5 401v1M295.5 403v1M296.5 404v1M299.5 406v1M302.5 408v1M305.5 410v1M306.5 411v1M307.5 412v1M308.5 413v1M309.5 414v1M310.5 415v1M311.5 416v1M312.5 417v1M313.5 418v1M314.5 419v1M315.5 420v1M316.5 421v1M317.5 422v1M318.5 237v1M318.5 423v1M319.5 424v1M320.5 425v1M321.5 235v1M321.5 426v1M322.5 234v1M322.5 427v1M323.5 428v1M324.5 429v1M325.5 232v1M325.5 430v1M326.5 231v1M326.5 431v1M327.5 230v1M327.5 432v1M328.5 229v1M328.5 433v1M329.5 228v1M329.5 434v1M330.5 227v1M330.5 435v1M331.5 226v1M331.5 436v1M332.5 225v1M332.5 437v1M333.5 224v1M333.5 438v1M334.5 223v1M334.5 439v1M335.5 221v2M335.5 440v1M336.5 220v1M336.5 441v2M337.5 219v1M337.5 443v1M338.5 217v2M338.5 444v1M339.5 216v1M339.5 445v1M340.5 215v1M340.5 446v2M341.5 213v2M341.5 448v1M342.5 211v2M342.5 449v1M343.5 210v1M343.5 450v1M344.5 208v2M344.5 451v1M345.5 206v2M345.5 452v1M346.5 204v2M346.5 453v1M347.5 202v2M348.5 200v2M349.5 198v2M349.5 455v1M350.5 196v2M350.5 456v1M351.5 194v2M351.5 457v1M352.5 192v2M352.5 458v1M353.5 189v3M354.5 187v2M355.5 185v2M355.5 460v1M356.5 182v3M357.5 179v3M358.5 177v2M359.5 174v3M360.5 171v3M361.5 167v4M362.5 164v3M363.5 161v3M364.5 157v4M365.5 154v3M365.5 460v1M366.5 151v3M366.5 459v1M367.5 147v4M367.5 458v1M368.5 142v5M368.5 457v1M369.5 139v3M369.5 455v2M370.5 134v5M370.5 453v2M371.5 130v4M371.5 452v1M372.5 126v4M372.5 449v3M373.5 123v3M373.5 447v2M374.5 119v4M374.5 445v2M375.5 116v3M375.5 442v3M376.5 112v4M376.5 440v2M377.5 109v3M377.5 438v2M378.5 105v4M378.5 436v2M379.5 102v3M379.5 433v3M380.5 98v4M380.5 431v2M381.5 95v3M381.5 428v3M382.5 91v4M382.5 425v3M383.5 88v3M383.5 421v4M384.5 85v3M384.5 417v4M385.5 82v3M385.5 413v4M386.5 79v3M386.5 409v4M387.5 77v2M387.5 405v4M388.5 75v2M388.5 402v3M389.5 73v2M389.5 398v4M390.5 72v1M390.5 395v3M391.5 70v2M391.5 392v3M392.5 69v1M392.5 388v4M393.5 68v1M393.5 384v4M394.5 67v1M394.5 381v3M395.5 66v1M395.5 378v3M396.5 65v1M396.5 374v4M397.5 64v1M397.5 371v3M398.5 63v1M398.5 368v3M399.5 364v4M400.5 361v3M401.5 357v4M402.5 354v3M403.5 351v3M404.5 349v2M405.5 346v3M406.5 343v3M407.5 341v2M408.5 338v3M409.5 336v2M410.5 64v1M410.5 333v3M411.5 65v1M411.5 331v2M412.5 329v2M413.5 327v2M414.5 67v1M414.5 325v2M415.5 68v1M415.5 323v2M416.5 69v2M416.5 321v2M417.5 71v1M417.5 319v2M418.5 72v2M418.5 318v1M419.5 74v1M419.5 316v2M420.5 75v1M420.5 315v1M421.5 76v2M421.5 314v1M422.5 78v1M422.5 313v1M423.5 79v1M423.5 311v2M424.5 80v2M424.5 310v1M425.5 82v1M425.5 309v1M426.5 83v1M426.5 308v1M427.5 84v1M427.5 307v1M428.5 85v1M428.5 306v1M429.5 86v2M429.5 305v1M430.5 88v1M430.5 304v1M431.5 89v1M431.5 303v1M432.5 90v2M433.5 92v1M434.5 93v1M434.5 301v1M435.5 94v2M435.5 300v1M436.5 96v1M437.5 97v1M438.5 98v1M439.5 99v1M440.5 100v1M441.5 101v2M442.5 103v1M443.5 104v1M444.5 105v1M445.5 106v1M446.5 107v1M447.5 108v1M448.5 109v1M449.5 110v1M450.5 111v1M453.5 113v1M454.5 114v1M551.5 274v1M556.5 271v1M567.5 265v1M570.5 263v1M573.5 261v1M574.5 260v1M575.5 259v1M576.5 258v1M577.5 257v1M578.5 256v1M579.5 255v1M580.5 254v1M581.5 252v2M582.5 251v1M583.5 111v1M583.5 250v1M584.5 249v1M585.5 248v1M586.5 246v2M587.5 245v1M588.5 244v1M589.5 242v2M590.5 241v1M591.5 239v2M592.5 238v1M593.5 236v2M594.5 234v2M595.5 233v1M596.5 231v2M597.5 229v2M598.5 227v2M599.5 224v3M600.5 222v2M601.5 220v2M602.5 217v3M603.5 214v3M604.5 211v3M605.5 209v2M606.5 206v3M607.5 203v3M608.5 199v4M609.5 196v3M610.5 192v4M611.5 188v4M612.5 183v5M613.5 178v5M614.5 98v1M614.5 171v7M615.5 99v3M615.5 163v8M616.5 102v4M616.5 153v10M617.5 106v4M617.5 142v11M618.5 110v4M618.5 134v8M619.5 114v7M619.5 123v11M620.5 121v2" stroke="#ff0000"/>
</g>
<g class="tk">
<text x="106.2" y="500" text-anchor="middle">-200</text>
<text x="163.2" y="500" text-anchor="middle">-100</text>
<text x="222" y="500" text-anchor="middle">0</text>
<text x="279" y="500" text-anchor="middle">100</text>
<text x="336" y="500" text-anchor="middle">200</text>
<text x="393" y="500" text-anchor="middle">300</text>
<text x="450" y="500" text-anchor="middle">400</text>
<text x="507" y="500" text-anchor="middle">500</text>
<text x="564" y="500" text-anchor="middle">600</text>
<text x="621" y="500" text-anchor="middle">700</text>
<text x="74.6" y="81.8" text-anchor="end">-1.000</text>
<text x="74.6" y="118.8" text-anchor="end">-0.800</text>
<text x="74.6" y="155.8" text-anchor="end">-0.600</text>
<text x="74.6" y="192.8" text-anchor="end">-0.400</text>
<text x="74.6" y="229.8" text-anchor="end">-0.200</text>
<text x="74.6" y="266.8" text-anchor="end">0</text>
<text x="74.6" y="303.8" text-anchor="end">0.200</text>
<text x="74.6" y="340.8" text-anchor="end">0.400</text>
<text x="74.6" y="377.8" text-anchor="end">0.600</text>
<text x="74.6" y="413.8" text-anchor="end">0.800</text>
<text x="74.6" y="450.8" text-anchor="end">1.000</text>
</g>
<g class="title">
<text class="l" y="23.6"><tspan class="z" x="149.05">0</tspan><tspan class="m" x="158.6 169.6 180.6 191.6 202.6 213.6 224.6 235.6">.5mmol/L</tspan></text>
<text class="c" x="247.5" y="28.6" transform="scale(1,0.85)">铁氰化钾</text>
<text class="l" y="23.6"><tspan class="m" x="331.6">,</tspan><tspan class="z" x="344.05">0</tspan><tspan class="m" x="353.6 364.6 375.6 386.6 397.6 408.6 419.6">.2mol/L</tspan></text>
<text class="c" x="430" y="28.6" transform="scale(1,0.85)">硝酸钾</text>
<text class="l" y="23.6"><tspan class="m" x="492.6 503.6">CV</tspan></text>
<text class="c" x="515.5" y="28.6" transform="scale(1,0.85)">图</text>
</g>
<g class="ax">
<text y="521.5"><tspan class="c" x="308" font-size="18.67">电位</tspan><tspan class="c" x="346.8" font-size="18.67">：</tspan><tspan class="l" x="367.5" font-size="20">E(mV)</tspan></text>
<g transform="translate(23.2,364.5) rotate(-90)">
<text class="c" font-size="18.67" y="0"><tspan x="-1.2">电</tspan><tspan x="19">流</tspan></text>
<text class="c" font-size="18.67" x="37.6" y="1.3">：</text>
<text class="l" font-size="21.33" x="58.5" y="0">I</text>
<text class="c" font-size="18.67" x="58.5" y="0">（</text>
<text class="l" font-size="21.33" x="78.6" y="0" textLength="62.6" lengthAdjust="spacingAndGlyphs">1E-5A</text>
<text class="c" font-size="18.67" x="142" y="0">）</text>
</g>
</g>
</svg>
</body></html>
